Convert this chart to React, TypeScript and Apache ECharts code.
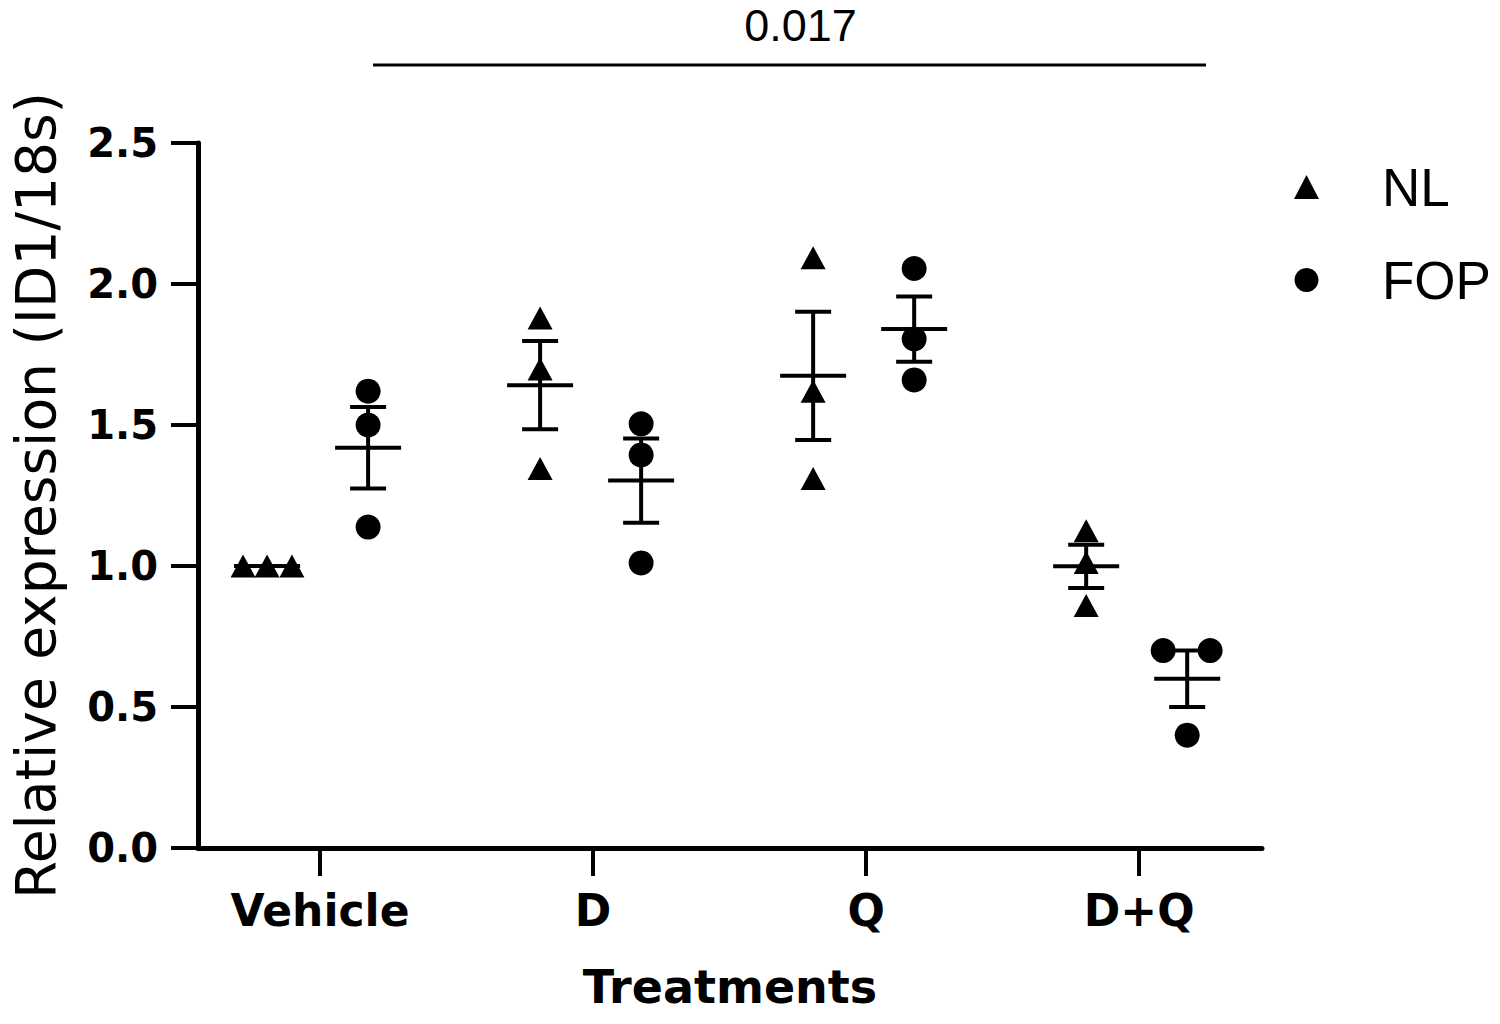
import React, { useEffect, useRef } from "react";
import * as echarts from "echarts";

// ---- data ----
const categories = ["Vehicle", "D", "Q", "D+Q"];
const seriesNames = ["NL", "FOP"];
const nlValues = [
  [1.0, 1.0, 1.0],
  [1.879, 1.699, 1.346],
  [2.093, 1.62, 1.31],
  [1.125, 1.012, 0.86],
];
const fopValues = [
  [1.62, 1.5, 1.138],
  [1.504, 1.394, 1.011],
  [2.055, 1.805, 1.66],
  [0.7, 0.7, 0.4],
];
// horizontal jitter of each point inside its group (category units)
const nlJitter = [
  [-0.088, 0, 0.091],
  [0, 0, 0],
  [0, 0, 0],
  [0, 0, 0],
];
const fopJitter = [
  [0, 0, 0],
  [0, 0, 0],
  [0, 0, 0],
  [-0.088, 0.084, 0],
];
const groupOffsets = [-0.194, 0.176];
const yTicks = [0, 0.5, 1.0, 1.5, 2.0, 2.5];
const sigFrom = 0.194;
const sigTo = 3.245;
const sigY = 2.777;
const sigLabelX = 1.76;
const sigText = "0.017";

function stats(vals: number[]) {
  const n = vals.length;
  const m = vals.reduce((a, b) => a + b, 0) / n;
  const v = vals.reduce((a, b) => a + (b - m) * (b - m), 0) / (n - 1);
  return [m, Math.sqrt(v) / Math.sqrt(n)];
}

function points(values: number[][], jitter: number[][], off: number) {
  const out: number[][] = [];
  values.forEach((g, i) => g.forEach((v, j) => out.push([i + off + jitter[i][j], v])));
  return out;
}

function summary(values: number[][], off: number) {
  return values.map((g, i) => {
    const [m, s] = stats(g);
    return [i + off, m, s];
  });
}

const renderMean = (params: any, api: any) => {
  const x = api.value(0);
  const m = api.value(1);
  const s = api.value(2);
  const pm = api.coord([x, m]);
  const pu = api.coord([x, m + s]);
  const pl = api.coord([x, m - s]);
  const st = { stroke: "#000", lineWidth: 4 };
  return {
    type: "group",
    children: [
      { type: "line", shape: { x1: pm[0] - 33, y1: pm[1], x2: pm[0] + 33, y2: pm[1] }, style: st },
      { type: "line", shape: { x1: pu[0], y1: pu[1], x2: pl[0], y2: pl[1] }, style: st },
      { type: "line", shape: { x1: pu[0] - 18, y1: pu[1], x2: pu[0] + 18, y2: pu[1] }, style: st },
      { type: "line", shape: { x1: pl[0] - 18, y1: pl[1], x2: pl[0] + 18, y2: pl[1] }, style: st },
    ],
  };
};

export default function App() {
  const ref = useRef<HTMLDivElement>(null);
  useEffect(() => {
    if (!ref.current) return;
    const chart = echarts.init(ref.current, undefined, { renderer: "svg" });
    const axisFont = "DejaVu Sans";
    chart.setOption({
      animation: false,
      backgroundColor: "#fff",
      grid: { left: 198, right: 238, top: 143, bottom: 176, containLabel: false },
      legend: {
        data: [
          { name: seriesNames[0], icon: "triangle" },
          { name: seriesNames[1], icon: "circle" },
        ],
        orient: "vertical",
        left: 1289,
        top: 152,
        itemWidth: 25,
        itemHeight: 24,
        itemGap: 33,
        itemStyle: { color: "#000", opacity: 1 },
        textStyle: {
          fontFamily: "Liberation Sans",
          fontSize: 53,
          color: "#000",
          lineHeight: 60,
          padding: [0, 0, 0, 58],
        },
      },
      xAxis: {
        type: "value",
        min: -0.447,
        max: 3.45,
        name: "Treatments",
        nameLocation: "middle",
        nameGap: 116,
        nameTextStyle: { fontFamily: axisFont, fontWeight: "bold", fontSize: 46, color: "#000" },
        axisLine: { onZero: false, lineStyle: { color: "#000", width: 5 } },
        axisTick: {
          show: true,
          customValues: [0, 1, 2, 3],
          length: 28,
          lineStyle: { color: "#000", width: 4 },
        },
        axisLabel: {
          customValues: [0, 1, 2, 3],
          formatter: (v: number) => categories[Math.round(v)] ?? "",
          margin: 40,
          fontFamily: axisFont,
          fontWeight: "bold",
          fontSize: 44,
          color: "#000",
        },
        splitLine: { show: false },
      },
      yAxis: {
        type: "value",
        min: 0,
        max: 2.5,
        interval: 0.5,
        name: "Relative expression (ID1/18s)",
        nameLocation: "middle",
        nameGap: 135,
        nameTextStyle: { fontFamily: axisFont, fontSize: 55, color: "#000" },
        axisLine: { show: true, onZero: false, lineStyle: { color: "#000", width: 5 } },
        axisTick: { show: true, length: 27, lineStyle: { color: "#000", width: 4 } },
        axisLabel: {
          customValues: yTicks,
          formatter: (v: number) => v.toFixed(1),
          margin: 40,
          fontFamily: axisFont,
          fontWeight: "bold",
          fontSize: 40,
          color: "#000",
        },
        splitLine: { show: false },
      },
      series: [
        {
          name: seriesNames[0],
          type: "scatter",
          symbol: "triangle",
          symbolSize: [25, 23],
          itemStyle: { color: "#000", opacity: 1 },
          data: points(nlValues, nlJitter, groupOffsets[0]),
          z: 3,
        },
        {
          name: seriesNames[1],
          type: "scatter",
          symbol: "circle",
          symbolSize: 25,
          itemStyle: { color: "#000", opacity: 1 },
          data: points(fopValues, fopJitter, groupOffsets[1]),
          z: 3,
        },
        {
          name: "NL mean",
          type: "custom",
          renderItem: renderMean,
          data: summary(nlValues, groupOffsets[0]),
          z: 4,
          silent: true,
        },
        {
          name: "FOP mean",
          type: "custom",
          renderItem: renderMean,
          data: summary(fopValues, groupOffsets[1]),
          z: 4,
          silent: true,
        },
        {
          name: "sig",
          type: "line",
          clip: false,
          symbol: "none",
          silent: true,
          lineStyle: { color: "#000", width: 3, opacity: 1 },
          data: [
            [sigFrom, sigY],
            [sigTo, sigY],
          ],
        },
        {
          name: "sigLabel",
          type: "scatter",
          clip: false,
          symbolSize: 0,
          silent: true,
          itemStyle: { opacity: 1 },
          data: [[sigLabelX, sigY]],
          label: {
            show: true,
            position: "top",
            distance: 17,
            formatter: sigText,
            fontFamily: "Liberation Sans",
            fontSize: 45,
            color: "#000",
            opacity: 1,
          },
        },
      ],
    });
    return () => chart.dispose();
  }, []);
  return <div ref={ref} style={{ width: 1500, height: 1024, margin: -8 }} />;
}
